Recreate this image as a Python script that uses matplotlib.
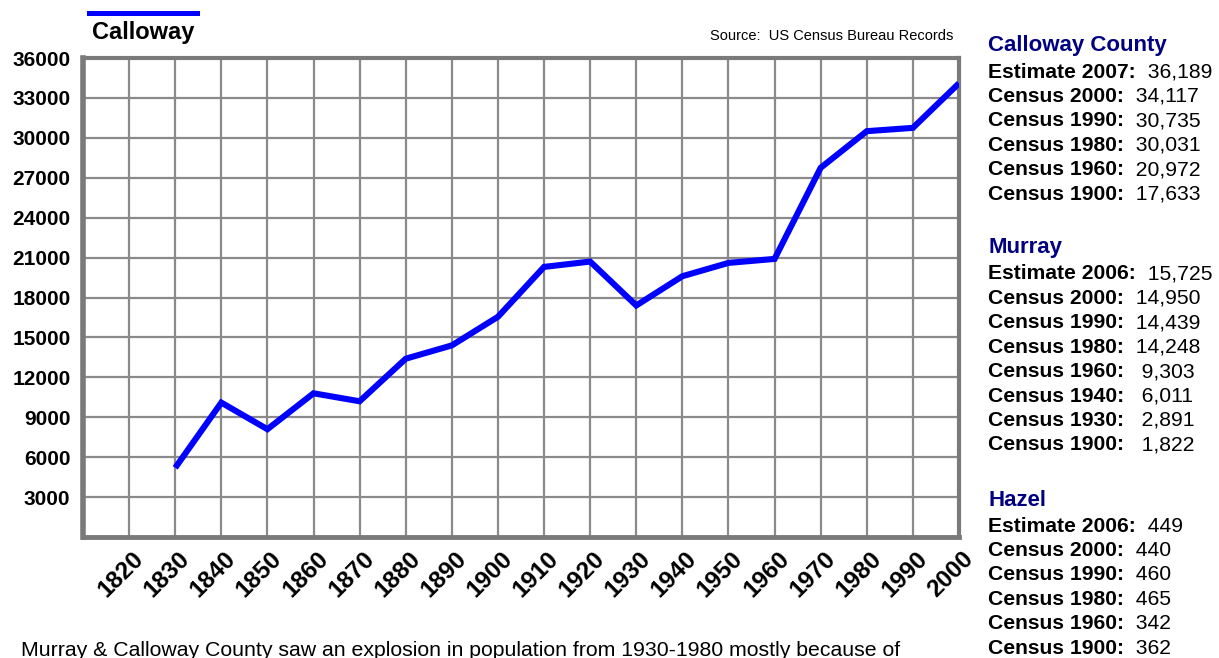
import matplotlib
matplotlib.use("Agg")
import matplotlib.pyplot as plt
from matplotlib.transforms import ScaledTranslation

# -------------------------------
# Data
# -------------------------------
decades = list(range(1820, 2001, 10))
years = [1830, 1840, 1850, 1860, 1870, 1880, 1890, 1900, 1910,
         1920, 1930, 1940, 1950, 1960, 1970, 1980, 1990, 2000]
calloway = [5200, 10100, 8100, 10800, 10200, 13400, 14400, 16550, 20300,
            20700, 17400, 19600, 20600, 20900, 27750, 30500, 30750, 34100]
y_ticks = list(range(3000, 36001, 3000))

calloway_labels = ["Estimate 2007:", "Census 2000:", "Census 1990:",
                   "Census 1980:", "Census 1960:", "Census 1900:"]
calloway_values = ["36,189", "34,117", "30,735", "30,031", "20,972", "17,633"]

murray_labels = ["Estimate 2006:", "Census 2000:", "Census 1990:", "Census 1980:",
                 "Census 1960:", "Census 1940:", "Census 1930:", "Census 1900:"]
murray_values = ["15,725", "14,950", "14,439", "14,248",
                 " 9,303", " 6,011", " 2,891", " 1,822"]

hazel_labels = ["Estimate 2006:", "Census 2000:", "Census 1990:",
                "Census 1980:", "Census 1960:", "Census 1900:"]
hazel_values = ["449", "440", "460", "465", "342", "362"]

caption = ("Murray & Calloway County saw an explosion in population "
           "from 1930-1980 mostly because of")

# -------------------------------
# Figure setup
# -------------------------------
W, H = 1219, 658
fig = plt.figure(figsize=(W / 100, H / 100), dpi=100)


def fx(px):
    return px / W


def fy(py):
    return 1 - py / H


ax = fig.add_axes([fx(83), fy(537), fx(959 - 83), (537 - 58) / H])

GRID = "#8a8a8a"
FRAME = "#7a7a7a"
SANS = ["Liberation Sans", "DejaVu Sans"]
BOLD = dict(family=SANS, weight="bold")

ax.plot(years, calloway, color="#0000ff", lw=4.4, solid_joinstyle="miter",
        solid_capstyle="butt", zorder=3)

ax.set_xlim(1810, 2000)
ax.set_ylim(0, 36000)

# grid drawn by hand so the last line sits on the frame only
for x in decades[:-1]:
    ax.axvline(x, color=GRID, lw=1.6, zorder=1)
for y in y_ticks[:-1]:
    ax.axhline(y, color=GRID, lw=1.6, zorder=1)

for side, lw in [("left", 4), ("bottom", 3.5), ("top", 3), ("right", 3)]:
    ax.spines[side].set_color(FRAME)
    ax.spines[side].set_linewidth(lw)

ax.set_yticks(y_ticks)
ax.set_yticklabels([str(v) for v in y_ticks], fontsize=15, **BOLD)
ax.tick_params(axis="y", length=0, pad=9)

ax.set_xticks(decades)
ax.set_xticklabels([str(d) for d in decades], fontsize=17.5, rotation=45,
                   ha="right", va="center", rotation_mode="anchor", **BOLD)
ax.tick_params(axis="x", length=0, pad=13)
shift = ScaledTranslation(11 / 100, 0, fig.dpi_scale_trans)
for lab in ax.get_xticklabels():
    lab.set_transform(lab.get_transform() + shift)

# legend swatch and source note
fig.add_artist(plt.Line2D([fx(89), fx(197)], [fy(13), fy(13)],
                          color="#0000ff", lw=3.6))
fig.text(fx(92), fy(32), "Calloway", fontsize=17, va="center", ha="left", **BOLD)
fig.text(fx(953), fy(36), "Source:  US Census Bureau Records", fontsize=10.5,
         va="center", ha="right",
         family=["Liberation Sans Narrow", "Liberation Sans", "DejaVu Sans"])

# -------------------------------
# Right-hand figures panel
# -------------------------------
NAVY = "#000080"
TX = 988
STEP = 24.4
FS = 15.2


def draw_block(title, title_y, labels, values, first_y):
    fig.text(fx(TX), fy(title_y), title, fontsize=16, color=NAVY,
             va="center", ha="left", **BOLD)
    for i, (lab, val) in enumerate(zip(labels, values)):
        t = fig.text(fx(TX), fy(first_y + i * STEP), lab, fontsize=FS,
                     va="center", ha="left", **BOLD)
        ax.annotate("  " + val, xy=(1, 0), xycoords=t, va="bottom", ha="left",
                    fontsize=FS, family=SANS, annotation_clip=False)


draw_block("Calloway County", 45, calloway_labels, calloway_values, 72)
draw_block("Murray", 248, murray_labels, murray_values, 274)
draw_block("Hazel", 500, hazel_labels, hazel_values, 526)

fig.text(fx(21), fy(656), caption, fontsize=15.3, va="baseline", ha="left",
         family=SANS)

fig.savefig("out.png", dpi=100)
